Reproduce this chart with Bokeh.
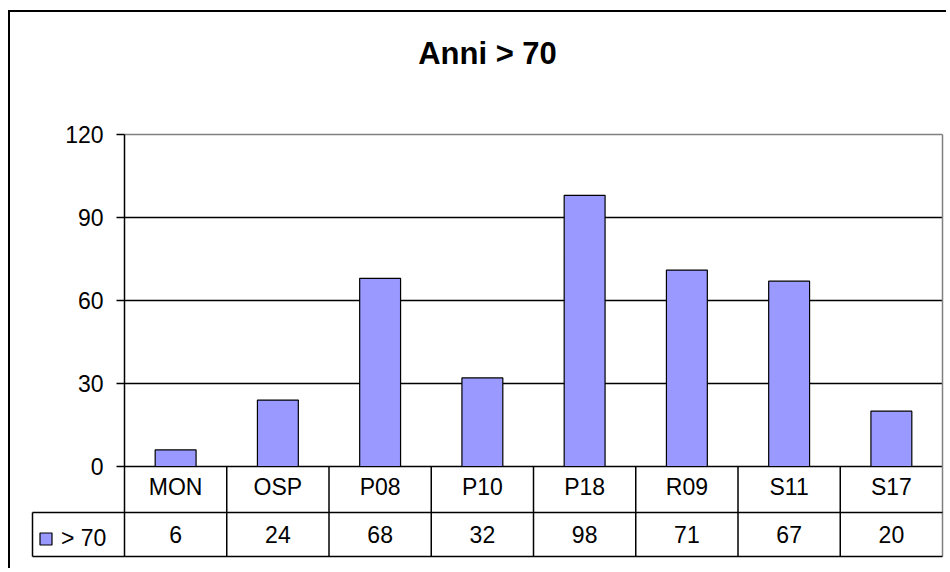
from bokeh.plotting import figure
from bokeh.models import (Range1d, FixedTicker, LinearAxis, Legend, LegendItem)
from bokeh.embed import file_html
from bokeh.resources import INLINE
from bokeh.core.properties import value

# ---- data ----
categories = ["MON", "OSP", "P08", "P10", "P18", "R09", "S11", "S17"]
values = [6, 24, 68, 32, 98, 71, 67, 20]
series_name = "> 70"
title_text = "Anni > 70"
y_ticks = [0, 30, 60, 90, 120]
grid_ticks = [0, 30, 60, 90]

n = len(categories)
x_pos = [i + 0.5 for i in range(n)]          # category centres (scale units)

# ---- layout constants (page pixels) ----
CAT_PX = 102.25      # width of one category column
AXIS_X = 124         # page x of the value axis
LEG_X_PX = 32        # page x of the table's legend cell
FRAME_L, FRAME_R, FRAME_T, FRAME_B = 30, 944, 90, 560
Y0_PX, Y120_PX = 466, 134
ROW1_PX, ROW2_PX = 512, 556
ORIGIN_X, ORIGIN_Y = 10, 12     # page position of the canvas
W, H = 938, 558

Y_MAX = 120
ppu = (Y0_PX - Y120_PX) / Y_MAX
ROW1 = -(ROW1_PX - Y0_PX) / ppu
ROW2 = -(ROW2_PX - Y0_PX) / ppu
ROW_VAL = (ROW1 + ROW2) / 2
LEG_X = -(AXIS_X - LEG_X_PX) / CAT_PX

x_start = -(AXIS_X - FRAME_L) / CAT_PX
x_end = n + (FRAME_R - (AXIS_X + n * CAT_PX)) / CAT_PX
y_end = Y_MAX + (Y120_PX - FRAME_T) / ppu
y_start = -(FRAME_B - Y0_PX) / ppu

FONT = "Liberation Sans"
FS = "23px"
BAR_COLOR = "#9999FF"
LW = 1.5

p = figure(x_range=Range1d(x_start, x_end), y_range=Range1d(y_start, y_end),
           width=W, height=H,
           min_border_left=FRAME_L - ORIGIN_X,
           min_border_top=FRAME_T - ORIGIN_Y,
           min_border_right=(ORIGIN_X + W) - FRAME_R,
           min_border_bottom=(ORIGIN_Y + H) - FRAME_B,
           toolbar_location=None, output_backend="svg",
           x_axis_location=None, y_axis_location=None)

p.background_fill_color = "white"
p.border_fill_color = "white"
p.outline_line_color = None
p.xgrid.visible = False
p.ygrid.visible = False
p.styles = {"margin-left": "8px", "margin-top": "10px",
            "border-top": "2px solid black", "border-left": "2px solid black"}

# title
p.title.text = title_text
p.title.align = "center"
p.title.text_font = FONT
p.title.text_font_size = "31px"
p.title.text_font_style = "bold"
p.title.text_color = "black"
p.title.standoff = 40

# value axis, fixed at the left edge of the category area
yax = LinearAxis(fixed_location=0, bounds=(ROW2, Y_MAX))
yax.ticker = FixedTicker(ticks=y_ticks)
yax.major_tick_out = 8
yax.major_tick_in = 0
yax.minor_tick_out = 0
yax.minor_tick_in = 0
yax.major_label_standoff = 13
yax.axis_line_color = "black"
yax.axis_line_width = LW
yax.major_tick_line_width = LW
yax.major_label_text_font = FONT
yax.major_label_text_font_size = FS
yax.major_label_text_color = "black"
p.add_layout(yax, "left")

# category row: axis drawn on the table's middle line, labels above it
xax = LinearAxis(fixed_location=ROW1, bounds=(LEG_X, n))
xax.ticker = FixedTicker(ticks=x_pos)
xax.major_label_overrides = {x: c for x, c in zip(x_pos, categories)}
xax.major_tick_in = 0
xax.major_tick_out = 0
xax.minor_tick_in = 0
xax.minor_tick_out = 0
xax.axis_line_color = "black"
xax.axis_line_width = LW
xax.major_label_standoff = 13
xax.major_label_text_font = FONT
xax.major_label_text_font_size = FS
xax.major_label_text_color = "black"
p.add_layout(xax, "above")

# horizontal grid lines (black) and the plot-area top edge (grey)
p.segment(x0=[0] * len(grid_ticks), x1=[n] * len(grid_ticks),
          y0=grid_ticks, y1=grid_ticks, line_color="black", line_width=LW)
p.segment(x0=[0], x1=[n], y0=[Y_MAX], y1=[Y_MAX],
          line_color="#808080", line_width=LW)
# right edge of plot area and table (grey)
p.segment(x0=[n], x1=[n], y0=[Y_MAX], y1=[ROW2],
          line_color="#808080", line_width=LW)

# bars
bars = p.vbar(x=x_pos, top=values, width=0.4,
              fill_color=BAR_COLOR, line_color="black", line_width=1.2)

# data-table lines
p.segment(x0=list(range(1, n)), x1=list(range(1, n)),
          y0=[0] * (n - 1), y1=[ROW2] * (n - 1),
          line_color="black", line_width=LW)
p.segment(x0=[LEG_X], x1=[LEG_X], y0=[ROW1], y1=[ROW2],
          line_color="black", line_width=LW)
p.segment(x0=[LEG_X], x1=[n], y0=[ROW2], y1=[ROW2],
          line_color="black", line_width=LW)

# value row
p.text(x=x_pos, y=[ROW_VAL] * n, text=[str(v) for v in values],
       text_align="center", text_baseline="middle",
       text_font=value(FONT), text_font_size=FS, text_color="black")

# legend cell
legend = Legend(items=[LegendItem(label=series_name, renderers=[bars])],
                location=(LEG_X_PX - FRAME_L + 6, FRAME_B - ROW2_PX + 3),
                orientation="vertical",
                border_line_color=None, background_fill_alpha=0,
                padding=7, margin=0, spacing=0,
                glyph_width=15, glyph_height=15, label_standoff=8,
                label_width=50, label_height=30,
                label_text_font=FONT, label_text_font_size=FS,
                label_text_color="black")
p.add_layout(legend)

open("out.html", "w").write(file_html(p, INLINE))
